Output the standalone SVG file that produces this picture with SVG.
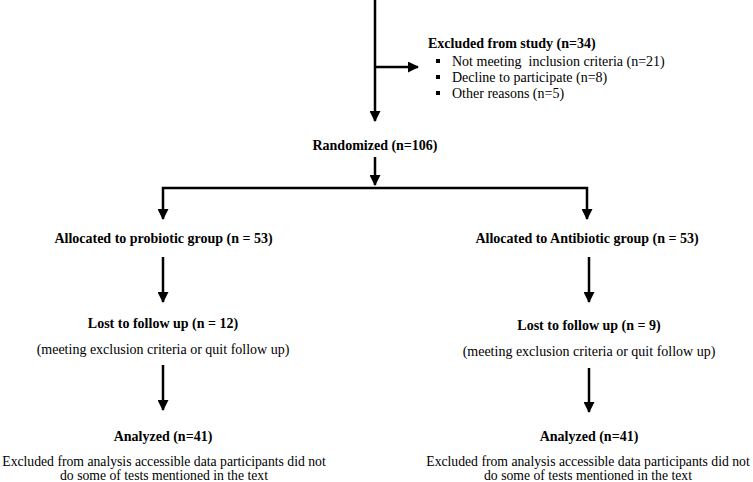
<svg xmlns="http://www.w3.org/2000/svg" width="753" height="482" viewBox="0 0 753 482">
<style>
text{font-family:"Liberation Serif","Times New Roman",serif;font-size:14px;fill:#000}
.b{font-weight:bold}
.c{text-anchor:middle}
.s{font-size:13.7px}
.ln{fill:none;stroke:#000;stroke-width:2.5}
</style>
<defs>
<marker id="ah" markerUnits="userSpaceOnUse" markerWidth="11" markerHeight="11" refX="10" refY="5.5" orient="auto" viewBox="0 0 11 11">
<path d="M0,0 L11,5.5 L0,11 z" fill="#000"/>
</marker>
</defs>
<rect width="753" height="482" fill="#fff"/>
<g id="connectors">
<path class="ln" d="M375,0 L375,121" marker-end="url(#ah)"/>
<path class="ln" d="M375,67 L418,67" marker-end="url(#ah)"/>
<path class="ln" d="M375,157 L375,185" marker-end="url(#ah)"/>
<path class="ln" d="M375,188 L163,188 L163,219" marker-end="url(#ah)"/>
<path class="ln" d="M375,188 L587,188 L587,219" marker-end="url(#ah)"/>
<path class="ln" d="M163,257 L163,302" marker-end="url(#ah)"/>
<path class="ln" d="M163,365 L163,410" marker-end="url(#ah)"/>
<path class="ln" d="M589,257 L589,302" marker-end="url(#ah)"/>
<path class="ln" d="M589,368 L589,412" marker-end="url(#ah)"/>
</g>
<g id="excluded">
<text class="b" x="428" y="48">Excluded from study (n=34)</text>
<rect x="436" y="59" width="4" height="4"/>
<rect x="436" y="75" width="4" height="4"/>
<rect x="436" y="91" width="4" height="4"/>
<text x="452" y="66">Not meeting&#160; inclusion criteria (n=21)</text>
<text x="452" y="82">Decline to participate (n=8)</text>
<text x="452" y="98">Other reasons (n=5)</text>
</g>
<g id="randomized">
<text class="b c" x="375" y="150">Randomized (n=106)</text>
</g>
<g id="alloc-probiotic">
<text class="b c" x="163.5" y="243">Allocated to probiotic group (n = 53)</text>
</g>
<g id="alloc-antibiotic">
<text class="b c" x="587" y="243">Allocated to Antibiotic group (n = 53)</text>
</g>
<g id="lost-left">
<text class="b c" x="163" y="328">Lost to follow up (n = 12)</text>
<text class="c" x="163" y="354">(meeting exclusion criteria or quit follow up)</text>
</g>
<g id="lost-right">
<text class="b c" x="589" y="330">Lost to follow up (n = 9)</text>
<text class="c" x="589" y="356">(meeting exclusion criteria or quit follow up)</text>
</g>
<g id="analyzed-left">
<text class="b c" x="163" y="441">Analyzed (n=41)</text>
<text class="c s" x="164" y="465.5">Excluded from analysis accessible data participants did not</text>
<text class="c s" x="164" y="479.5">do some of tests mentioned in the text</text>
</g>
<g id="analyzed-right">
<text class="b c" x="589" y="441">Analyzed (n=41)</text>
<text class="c s" x="588" y="465.5">Excluded from analysis accessible data participants did not</text>
<text class="c s" x="588" y="479.5">do some of tests mentioned in the text</text>
</g>
</svg>
